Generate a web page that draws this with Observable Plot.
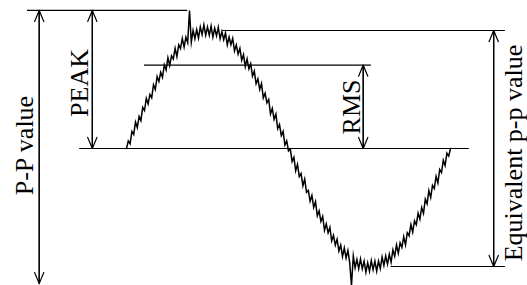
<!DOCTYPE html>
<html>
<head>
<meta charset="utf-8">
<script src="https://cdn.jsdelivr.net/npm/d3@7"></script>
<script src="https://cdn.jsdelivr.net/npm/@observablehq/plot@0.6"></script>
<style>
  html, body { margin: 0; padding: 0; background: #fff; }
  #chart svg { display: block; }
</style>
</head>
<body>
<div id="chart"></div>
<script>
// Noisy sine waveform, one sample every 2 degrees of phase (0..360), amplitude units (peak = 1)
const phaseStepDeg = 2;
const waveValues = [
  0.000, 0.065, 0.040, 0.145, 0.119, 0.224, 0.178, 0.272, 0.236, 0.349,
  0.322, 0.425, 0.377, 0.458, 0.429, 0.540, 0.500, 0.609, 0.568, 0.646,
  0.603, 0.709, 0.665, 0.769, 0.703, 0.786, 0.758, 0.849, 0.779, 0.878,
  0.846, 0.933, 0.859, 0.944, 0.897, 1.170, 0.901, 1.001, 0.930, 1.008,
  0.935, 1.030, 0.965, 1.048, 0.959, 1.030, 0.959, 1.038, 0.945, 1.020,
  0.955, 1.028, 0.930, 0.991, 0.921, 0.980, 0.877, 0.944, 0.879, 0.933,
  0.826, 0.878, 0.799, 0.849, 0.748, 0.796, 0.693, 0.759, 0.675, 0.719,
  0.613, 0.656, 0.548, 0.589, 0.500, 0.550, 0.429, 0.468, 0.387, 0.415,
  0.292, 0.339, 0.246, 0.292, 0.168, 0.204, 0.109, 0.145, 0.030, 0.065,
  -0.020, -0.005, -0.110, -0.075, -0.189, -0.134, -0.238, -0.212, -0.316, -0.259,
  -0.372, -0.355, -0.447, -0.398, -0.499, -0.450, -0.570, -0.529, -0.618, -0.576,
  -0.693, -0.639, -0.715, -0.669, -0.783, -0.736, -0.818, -0.769, -0.869, -0.818,
  -0.916, -0.843, -0.929, -0.864, -0.967, -1.160, -0.911, -1.011, -0.940, -1.018,
  -0.935, -1.020, -0.955, -1.048, -0.969, -1.040, -0.949, -1.028, -0.955, -1.040,
  -0.955, -1.018, -0.920, -0.991, -0.911, -0.980, -0.897, -0.964, -0.859, -0.913,
  -0.816, -0.888, -0.799, -0.839, -0.748, -0.816, -0.713, -0.739, -0.645, -0.709,
  -0.613, -0.646, -0.548, -0.599, -0.500, -0.550, -0.429, -0.468, -0.357, -0.415,
  -0.312, -0.339, -0.236, -0.292, -0.178, -0.204, -0.099, -0.145, -0.040, -0.065,
  0.000
];

// Horizontal reference levels (amplitude) and their extent in phase degrees
const levelNames  = ["peak", "zero", "rms", "equivalent top", "equivalent bottom"];
const levelValues = [1.17, 0, 0.707, 1.0, -1.0];
const levelFrom   = [-110, -52, 20, 107, 294];
const levelTo     = [68, 381, 272, 421, 421];

// Double-headed measurement arrows and their labels
const arrowLabels = ["P-P value", "PEAK", "RMS", "Equivalent p-p value"];
const arrowPhase  = [-97, -38, 263, 408];
const arrowTop    = [1.17, 1.17, 0.707, 1.0];
const arrowBottom = [-1.145, 0, 0, -1.0];
const labelPhase  = [-104.4, -43.3, 259, 440];
const labelLevel  = [0.025, 0.555, 0.352, -0.038];

const wave = waveValues.map((v, i) => ({phase: i * phaseStepDeg, value: v}));
const levels = levelNames.map((n, i) => ({name: n, value: levelValues[i], from: levelFrom[i], to: levelTo[i]}));
const arrows = arrowLabels.map((t, i) => ({
  label: t, phase: arrowPhase[i], top: arrowTop[i], bottom: arrowBottom[i],
  lx: labelPhase[i], ly: labelLevel[i]
}));

const ink = "#000";
const chart = Plot.plot({
  width: 527,
  height: 285,
  margin: 0,
  style: {background: "#fff", overflow: "visible"},
  x: {domain: [-140, 445.56], axis: null},
  y: {domain: [-1.161, 1.2542], axis: null},
  marks: [
    Plot.ruleY(levels, {y: "value", x1: "from", x2: "to", stroke: ink, strokeWidth: 1.2}),
    Plot.line(wave, {x: "phase", y: "value", stroke: ink, strokeWidth: 1.5, strokeLinejoin: "miter", strokeMiterlimit: 10, curve: "linear"}),
    Plot.arrow(arrows, {x1: "phase", x2: "phase", y1: "bottom", y2: "top", stroke: ink, strokeWidth: 1.2, headLength: 15, headAngle: 45}),
    Plot.arrow(arrows, {x1: "phase", x2: "phase", y1: "top", y2: "bottom", stroke: ink, strokeWidth: 1.2, headLength: 15, headAngle: 45}),
    Plot.text(arrows, {
      x: "lx", y: "ly", text: "label", rotate: -90,
      lineAnchor: "bottom", textAnchor: "middle",
      fontSize: 26, fontFamily: "Liberation Serif", fill: ink
    })
  ]
});
document.getElementById("chart").appendChild(chart);
</script>
</body>
</html>
